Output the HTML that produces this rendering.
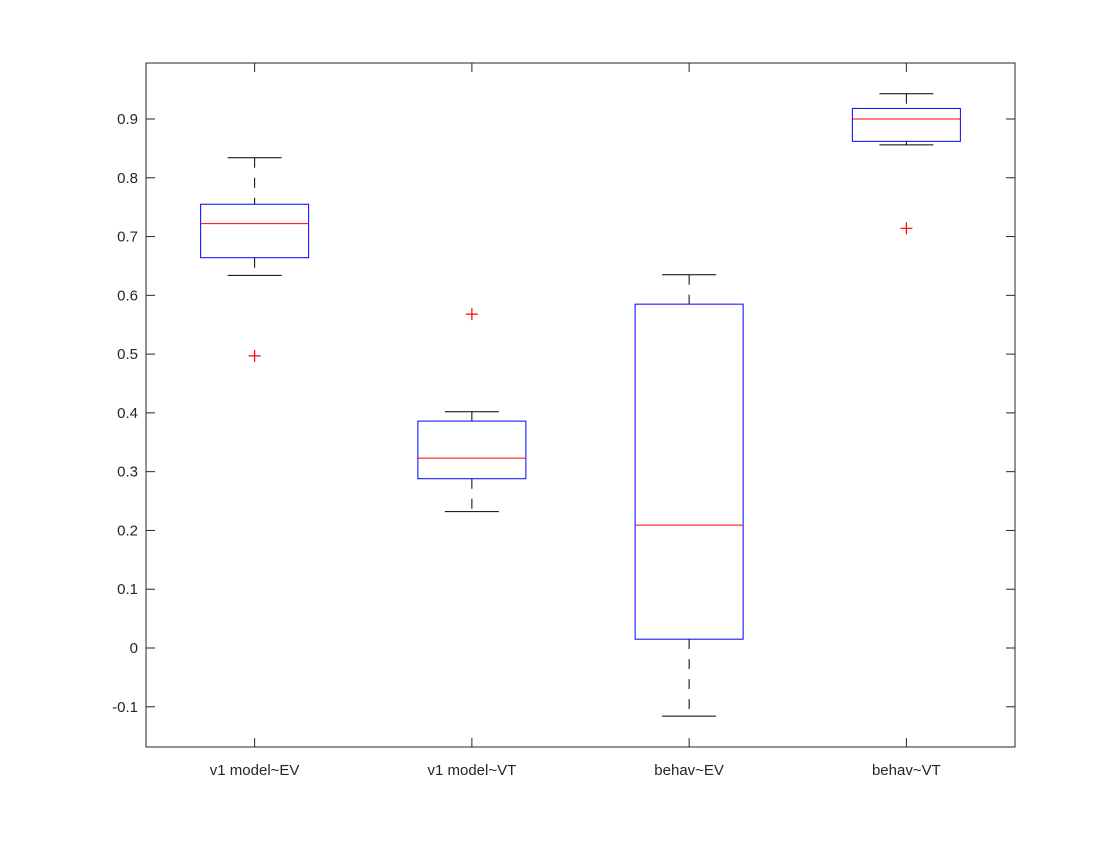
<!DOCTYPE html>
<html><head><meta charset="utf-8"><style>
body{margin:0;background:#fff;font-family:"Liberation Sans",sans-serif}
svg text{font-family:"Liberation Sans",sans-serif;font-size:15px;fill:#262626}
</style></head><body>
<svg id="chart" width="1120" height="840">
<rect x="0" y="0" width="1120" height="840" fill="#fff"/>
<g id="plot"></g>
</svg>
<script>
const categories=["v1 model~EV","v1 model~VT","behav~EV","behav~VT"];
const q1=[0.664,0.288,0.015,0.862];
const q3=[0.755,0.386,0.585,0.918];
const medians=[0.722,0.323,0.209,0.900];
const whiskerHi=[0.834,0.402,0.635,0.943];
const whiskerLo=[0.634,0.232,-0.116,0.856];
const outlierCat=[0,1,3];
const outlierVal=[0.497,0.568,0.714];
const yTicks=[-0.1,0,0.1,0.2,0.3,0.4,0.5,0.6,0.7,0.8,0.9];
const yTickLabels=["-0.1","0","0.1","0.2","0.3","0.4","0.5","0.6","0.7","0.8","0.9"];

const L=146,R=1015,T=63,B=747;
const y=v=>648-v*(648-119)/0.9;
const x=i=>L+(i+0.5)*(R-L)/4;
const g=document.getElementById('plot');
const NS='http://www.w3.org/2000/svg';
function mk(tag,attrs,parent){const e=document.createElementNS(NS,tag);for(const k in attrs)e.setAttribute(k,attrs[k]);(parent||g).appendChild(e);return e;}
let e;
e=mk('rect',{x:L,y:T,width:R-L,height:B-T,fill:'none',stroke:'#262626','stroke-width':1});


yTicks.forEach((t,i)=>{
 const yy=y(t);
 e=mk('line',{x1:L,x2:L+9,y1:yy,y2:yy,stroke:'#262626'});
 
 
 e=mk('line',{x1:R,x2:R-9,y1:yy,y2:yy,stroke:'#262626'});
 
 
 e=mk('text',{x:L-8,y:yy+5,'text-anchor':'end'});e.textContent=yTickLabels[i];
 
 
});
const hw=54,cw=27;
categories.forEach((c,i)=>{
 const cx=x(i);
 e=mk('line',{x1:cx,x2:cx,y1:B,y2:B-9,stroke:'#262626'});
 
 
 e=mk('line',{x1:cx,x2:cx,y1:T,y2:T+9,stroke:'#262626'});
 
 
 e=mk('text',{x:cx,y:B+28,'text-anchor':'middle'});e.textContent=c;
 
 
 e=mk('line',{x1:cx,x2:cx,y1:y(whiskerHi[i]),y2:y(q3[i]),stroke:'#000','stroke-dasharray':'10,10'});
 
 
 e=mk('line',{x1:cx,x2:cx,y1:y(q1[i]),y2:y(whiskerLo[i]),stroke:'#000','stroke-dasharray':'10,10'});
 
 
 e=mk('line',{x1:cx-cw,x2:cx+cw,y1:y(whiskerHi[i]),y2:y(whiskerHi[i]),stroke:'#000'});
 
 
 e=mk('line',{x1:cx-cw,x2:cx+cw,y1:y(whiskerLo[i]),y2:y(whiskerLo[i]),stroke:'#000'});
 
 
 e=mk('rect',{x:cx-hw,y:y(q3[i]),width:2*hw,height:y(q1[i])-y(q3[i]),fill:'none',stroke:'#0000ff'});
 
 
 e=mk('line',{x1:cx-hw,x2:cx+hw,y1:y(medians[i]),y2:y(medians[i]),stroke:'#ff0000'});
 
 
});
outlierVal.forEach((v,k)=>{
 const cx=x(outlierCat[k]),yy=y(v);
 e=mk('path',{d:`M${cx-6},${yy}H${cx+6}M${cx},${yy-6}V${yy+6}`,stroke:'#ff0000','stroke-width':1.2,fill:'none'});
 
 
});
</script>
</body></html>
